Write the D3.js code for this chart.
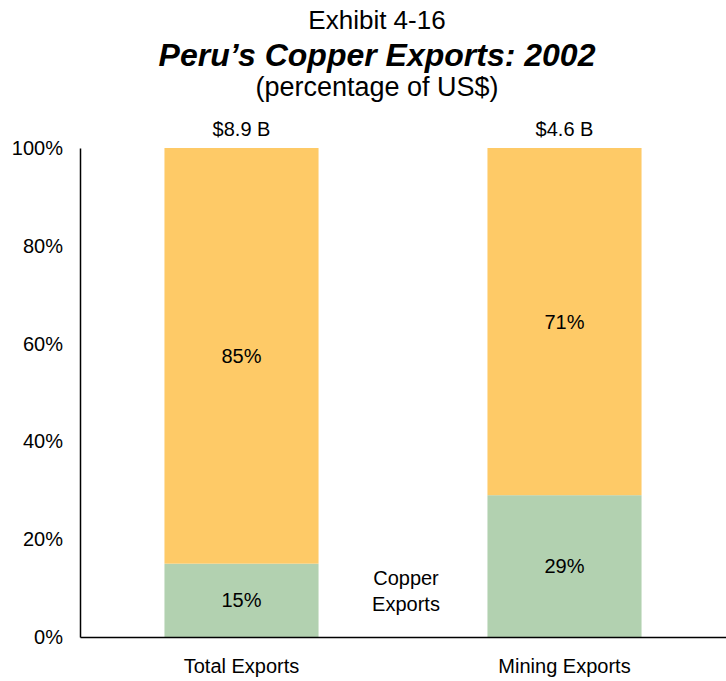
<!DOCTYPE html>
<html>
<head>
<meta charset="utf-8">
<script src="https://cdn.jsdelivr.net/npm/d3@7"></script>
<style>
  body { margin: 0; background: #fff; }
  text { font-family: "Liberation Sans", Arial, sans-serif; fill: #000; }
</style>
</head>
<body>
<svg id="chart" width="726" height="681"></svg>
<script>
var categories = ["Total Exports", "Mining Exports"];
var copper = [15, 29];
var other = [85, 71];
var totals = ["$8.9 B", "$4.6 B"];
var yTicks = [0, 20, 40, 60, 80, 100];

var svg = d3.select("#chart");
var plotLeft = 80, plotRight = 726, plotTop = 148, plotBottom = 637;

var x = d3.scaleBand()
    .domain(categories)
    .range([plotLeft, plotRight])
    .paddingInner(0.523)
    .paddingOuter(0.2615);

var y = d3.scaleLinear().domain([0, 100]).range([plotBottom, plotTop]);

// titles
svg.append("text").attr("x", 377).attr("y", 29).attr("text-anchor", "middle")
    .style("font-size", "26px").text("Exhibit 4-16");
svg.append("text").attr("x", 377).attr("y", 66).attr("text-anchor", "middle")
    .style("font-size", "32px").style("font-weight", "bold").style("font-style", "italic")
    .text("Peru\u2019s Copper Exports: 2002");
svg.append("text").attr("x", 377).attr("y", 96).attr("text-anchor", "middle")
    .style("font-size", "27px").text("(percentage of US$)");

// stacked bars
var rows = categories.map(function(c, i) {
    return { cat: c, copper: copper[i], other: other[i], total: totals[i] };
});
var stack = d3.stack().keys(["copper", "other"])(rows);
var colors = { copper: "#b2d1b0", other: "#feca67" };

stack.forEach(function(layer) {
    svg.append("g").selectAll("rect")
        .data(layer)
        .join("rect")
        .attr("x", function(d) { return x(d.data.cat); })
        .attr("width", x.bandwidth())
        .attr("y", function(d) { return y(d[1]); })
        .attr("height", function(d) { return y(d[0]) - y(d[1]); })
        .attr("fill", colors[layer.key]);

    svg.append("g").selectAll("text")
        .data(layer)
        .join("text")
        .attr("x", function(d) { return x(d.data.cat) + x.bandwidth() / 2; })
        .attr("y", function(d) { return (y(d[0]) + y(d[1])) / 2 + 7; })
        .attr("text-anchor", "middle")
        .style("font-size", "20px")
        .text(function(d) { return d.data[layer.key] + "%"; });
});

// totals above bars
svg.append("g").selectAll("text")
    .data(rows)
    .join("text")
    .attr("x", function(d) { return x(d.cat) + x.bandwidth() / 2; })
    .attr("y", plotTop - 12)
    .attr("text-anchor", "middle")
    .style("font-size", "20px")
    .text(function(d) { return d.total; });

// y axis
var yAxis = svg.append("g")
    .attr("transform", "translate(" + plotLeft + ",0)")
    .call(d3.axisLeft(y).tickValues(yTicks).tickSize(0).tickPadding(17)
        .tickFormat(function(d) { return d + "%"; }));
yAxis.select(".domain").attr("stroke", "#000").attr("stroke-width", 1.5);
yAxis.selectAll("text").style("font-size", "20px")
    .style("font-family", "'Liberation Sans', Arial, sans-serif").attr("fill", "#000");

// x axis
var xAxis = svg.append("g")
    .attr("transform", "translate(0," + plotBottom + ")")
    .call(d3.axisBottom(x).tickSize(0).tickPadding(22));
xAxis.select(".domain").attr("stroke", "#000").attr("stroke-width", 1.5);
xAxis.selectAll("text").style("font-size", "20px")
    .style("font-family", "'Liberation Sans', Arial, sans-serif").attr("fill", "#000");

// annotation
var note = svg.append("text").attr("text-anchor", "middle").style("font-size", "20px");
note.append("tspan").attr("x", 406).attr("y", 585).text("Copper");
note.append("tspan").attr("x", 406).attr("y", 611).text("Exports");
</script>
</body>
</html>
